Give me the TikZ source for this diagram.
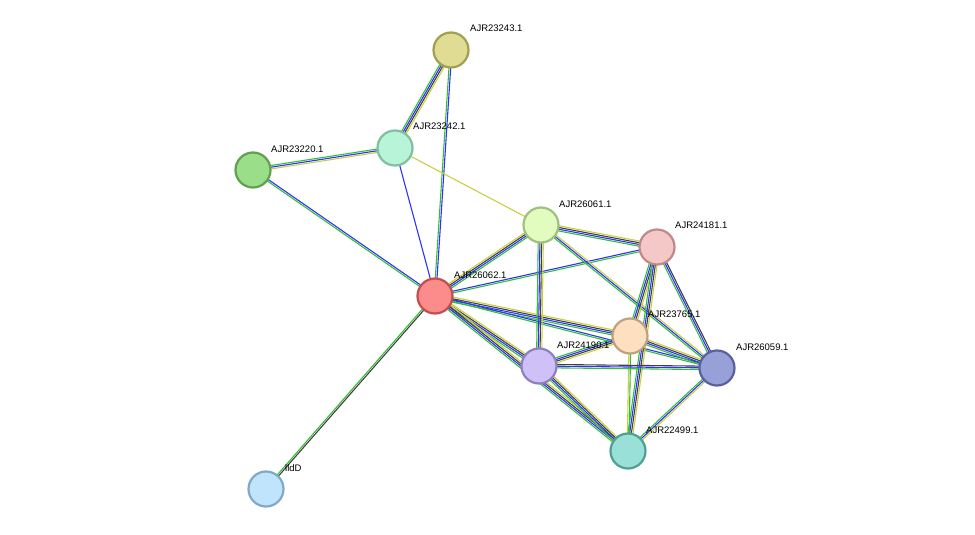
\documentclass[tikz,border=0pt]{standalone}
\usepackage{fontspec}
\setmainfont{Liberation Sans}
\usetikzlibrary{calc}
\definecolor{eg}{HTML}{33C033}\definecolor{eb}{HTML}{3030FF}\definecolor{ek}{HTML}{404040}\definecolor{ey}{HTML}{C8D040}
\tikzset{prot/.style={circle,minimum size=35pt,inner sep=0pt,line width=2.2pt},
lab/.style={anchor=west,font=\fontsize{9.5pt}{10pt}\selectfont,inner sep=0pt}}
\newcommand{\myedge}[3]{%
 \foreach \c [count=\i] in {#3}{\xdef\nn{\i}}%
 \foreach \c [count=\i] in {#3}{%
  \pgfmathsetmacro{\o}{(\i-(\nn+1)/2)*1.7}%
  \draw[\c,line width=1.1pt] ($(#1)!\o pt!90:(#2)$) -- ($(#2)!\o pt!-90:(#1)$);}}
\begin{document}
\begin{tikzpicture}[x=1pt,y=-1pt]
\useasboundingbox (0,0) rectangle (975,535);
\coordinate (p43) at (451,50);\coordinate (p42) at (395,148);\coordinate (p20) at (253,170);
\coordinate (p61) at (541,225);\coordinate (p81) at (657,247);\coordinate (p62) at (435,296);
\coordinate (p65) at (630,336);\coordinate (p59) at (717,368);\coordinate (p90) at (539,366);
\coordinate (p99) at (628,451);\coordinate (pld) at (266,489);
\myedge{p43}{p42}{eg,eb,ek,ey}
\myedge{p43}{p62}{eg,eb}
\myedge{p42}{p20}{eg,eb,ey}
\myedge{p42}{p62}{eb}
\myedge{p42}{p61}{ey}
\myedge{p20}{p62}{eg,eb}
\myedge{p62}{pld}{eg,ek}
\myedge{p62}{p61}{eg,eb,ek,ey}
\myedge{p62}{p81}{eg,eb}
\myedge{p62}{p65}{eg,eb,ek,ey}
\myedge{p62}{p90}{eg,eb,ek,ey}
\myedge{p62}{p99}{eg,eb,ek,ey}
\myedge{p62}{p59}{eg,eb}
\myedge{p61}{p81}{eg,eb,ek,ey}
\myedge{p61}{p90}{eg,eb,ek,ey}
\myedge{p61}{p59}{eg,eb,ey}
\myedge{p81}{p65}{eg,eb,ek,ey}
\myedge{p81}{p99}{eg,eb,ek,ey}
\myedge{p81}{p59}{eg,eb,ek}
\myedge{p65}{p90}{eg,eb,ek,ey}
\myedge{p65}{p59}{eg,eb,ek,ey}
\myedge{p65}{p99}{ey,eg}
\myedge{p90}{p59}{eg,eb,ek}
\myedge{p90}{p99}{eg,eb,ek,ey}
\myedge{p59}{p99}{eg,eb,ey}
\node[prot,fill={rgb,255:red,224;green,220;blue,148},draw={rgb,255:red,160;green,160;blue,80}] (n43) at (p43) {};
\node[prot,fill={rgb,255:red,184;green,245;blue,216},draw={rgb,255:red,128;green,192;blue,160}] (n42) at (p42) {};
\node[prot,fill={rgb,255:red,154;green,222;blue,138},draw={rgb,255:red,96;green,160;blue,80}] (n20) at (p20) {};
\node[prot,fill={rgb,255:red,226;green,252;blue,192},draw={rgb,255:red,160;green,192;blue,128}] (n61) at (p61) {};
\node[prot,fill={rgb,255:red,245;green,200;blue,200},draw={rgb,255:red,192;green,136;blue,136}] (n81) at (p81) {};
\node[prot,fill={rgb,255:red,252;green,140;blue,140},draw={rgb,255:red,192;green,80;blue,80}] (n62) at (p62) {};
\node[prot,fill={rgb,255:red,253;green,224;blue,192},draw={rgb,255:red,192;green,160;blue,128}] (n65) at (p65) {};
\node[prot,fill={rgb,255:red,152;green,160;blue,216},draw={rgb,255:red,88;green,96;blue,160}] (n59) at (p59) {};
\node[prot,fill={rgb,255:red,208;green,192;blue,248},draw={rgb,255:red,144;green,128;blue,192}] (n90) at (p90) {};
\node[prot,fill={rgb,255:red,152;green,224;blue,216},draw={rgb,255:red,80;green,160;blue,144}] (n99) at (p99) {};
\node[prot,fill={rgb,255:red,192;green,228;blue,252},draw={rgb,255:red,128;green,168;blue,200}] (nld) at (pld) {};
\node[lab] at (470,28) {AJR23243.1};
\node[lab] at (413,126) {AJR23242.1};
\node[lab] at (271,149) {AJR23220.1};
\node[lab] at (559,204) {AJR26061.1};
\node[lab] at (675,225) {AJR24181.1};
\node[lab] at (454,275) {AJR26062.1};
\node[lab] at (648,314) {AJR23765.1};
\node[lab] at (736,347) {AJR26059.1};
\node[lab] at (557,345) {AJR24190.1};
\node[lab] at (646,430) {AJR22499.1};
\node[lab] at (285,468) {lldD};
\end{tikzpicture}
\end{document}
